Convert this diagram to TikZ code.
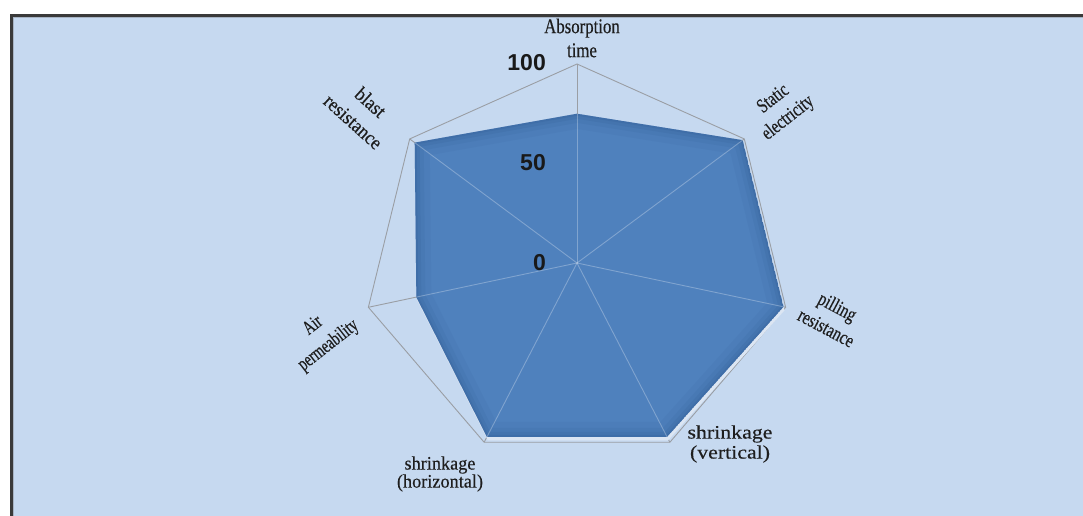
\documentclass[tikz,border=0pt]{standalone}
\usepackage{fontspec}
\setmainfont{Liberation Serif}
\newfontfamily\tickfont{Liberation Sans}
\newfontfamily\fAbs[FakeStretch=0.80,FakeBold=0.3]{Liberation Serif}
\newfontfamily\fStat[FakeStretch=0.75,FakeBold=0.3]{Liberation Serif}
\newfontfamily\fPill[FakeStretch=0.77,FakeBold=0.3]{Liberation Serif}
\newfontfamily\fShV[FakeStretch=1.15,FakeBold=0.3]{Liberation Serif}
\newfontfamily\fShH[FakeStretch=0.96,FakeBold=0.3]{Liberation Serif}
\newfontfamily\fAir[FakeStretch=0.70,FakeBold=0.3]{Liberation Serif}
\newfontfamily\fBlast[FakeStretch=0.90,FakeBold=0.3]{Liberation Serif}
\definecolor{bgblue}{HTML}{C6D9F0}
\definecolor{databl}{HTML}{4F81BD}
\definecolor{datadk}{HTML}{28528A}
\definecolor{gridgr}{HTML}{9A9EA4}
\definecolor{shadowcol}{HTML}{DCE6F3}
\definecolor{lbl}{HTML}{1E1E1E}
\definecolor{framecol}{HTML}{3A3A3A}
\definecolor{frameinner}{HTML}{A8B4C4}
\begin{document}
\begin{tikzpicture}[x=1pt,y=1pt,
  cat/.style={text=lbl, align=center, inner sep=0pt},
  tick/.style={font=\tickfont\bfseries\fontsize{23}{23}\selectfont, anchor=east, inner sep=0pt, text=black!90},
  gridline/.style={draw=gridgr, line width=0.9pt},
]
\useasboundingbox (0,0) rectangle (1083,516);
\fill[white] (0,0) rectangle (1083,516);
\fill[bgblue] (12,0) rectangle (1083,500);
\draw[frameinner, line width=1pt] (13.5,0) -- (13.5,498.5) -- (1083,498.5);
\draw[framecol, line width=3pt] (11,0) -- (11,500.5) -- (1083,500.5);

\coordinate (O) at (577,253);
\begin{scope}[shift={(577,253)}]
  \foreach \i in {0,...,6}{
    \coordinate (v\i) at ({90-\i*360/7}:214 and 199);
  }
  \foreach \i/\v in {0/0.75,1/0.99,2/0.99,3/0.97,4/0.97,5/0.77,6/0.97}{
    \coordinate (d\i) at ({90-\i*360/7}:{214*\v} and {199*\v});
  }
\end{scope}

% grid
\draw[gridline] (v0) -- (v1) -- (v2) -- (v3) -- (v4) -- (v5) -- (v6) -- cycle;
\foreach \i in {0,...,6}{ \draw[gridline] (O) -- (v\i); }

% light offset under the data area
\fill[shadowcol] ([shift={(1,-3.5)}]d0) -- ([shift={(1,-3.5)}]d1) -- ([shift={(1,-3.5)}]d2) -- ([shift={(1,-3.5)}]d3) -- ([shift={(1,-3.5)}]d4) -- ([shift={(1,-3.5)}]d5) -- ([shift={(1,-3.5)}]d6) -- cycle;

% data area
\begin{scope}
  \clip (d0) -- (d1) -- (d2) -- (d3) -- (d4) -- (d5) -- (d6) -- cycle;
  \fill[databl] (d0) -- (d1) -- (d2) -- (d3) -- (d4) -- (d5) -- (d6) -- cycle;
  \foreach \w/\o in {30/0.07, 18/0.09, 10/0.12, 4/0.15}{
    \draw[datadk, line width=\w pt, opacity=\o, line join=round] (d0) -- (d1) -- (d2) -- (d3) -- (d4) -- (d5) -- (d6) -- cycle;
  }
  \foreach \i in {0,...,6}{ \draw[white, opacity=0.28, line width=0.9pt] (O) -- (v\i); }
\end{scope}

% tick labels
\node[tick] (t100) at (546,453) {100};
\node[tick] (t50) at (546,353) {50};
\node[tick] (t0) at (546,253) {0};

% category labels
\node[cat, font=\fAbs\fontsize{21}{24}\selectfont] (lAbs) at (582,478) {Absorption\\time};
\node[cat, font=\fStat\fontsize{20}{24}\selectfont, rotate=38] (lStat) at (781,407) {Static\\electricity};
\node[cat, font=\fPill\fontsize{20}{24}\selectfont, rotate=-28] (lPill) at (832,199) {pilling\\resistance};
\node[cat, font=\fShV\fontsize{19}{20}\selectfont] (lShV) at (730,72) {shrinkage\\(vertical)};
\node[cat, font=\fShH\fontsize{19}{18}\selectfont] (lShH) at (440,42) {shrinkage\\(horizontal)};
\node[cat, font=\fAir\fontsize{20}{25}\selectfont, rotate=38] (lAir) at (321,180) {Air\\permeability};
\node[cat, font=\fBlast\fontsize{20}{26}\selectfont, rotate=-42] (lBlast) at (362,404) {blast\\resistance};
\end{tikzpicture}
\end{document}
